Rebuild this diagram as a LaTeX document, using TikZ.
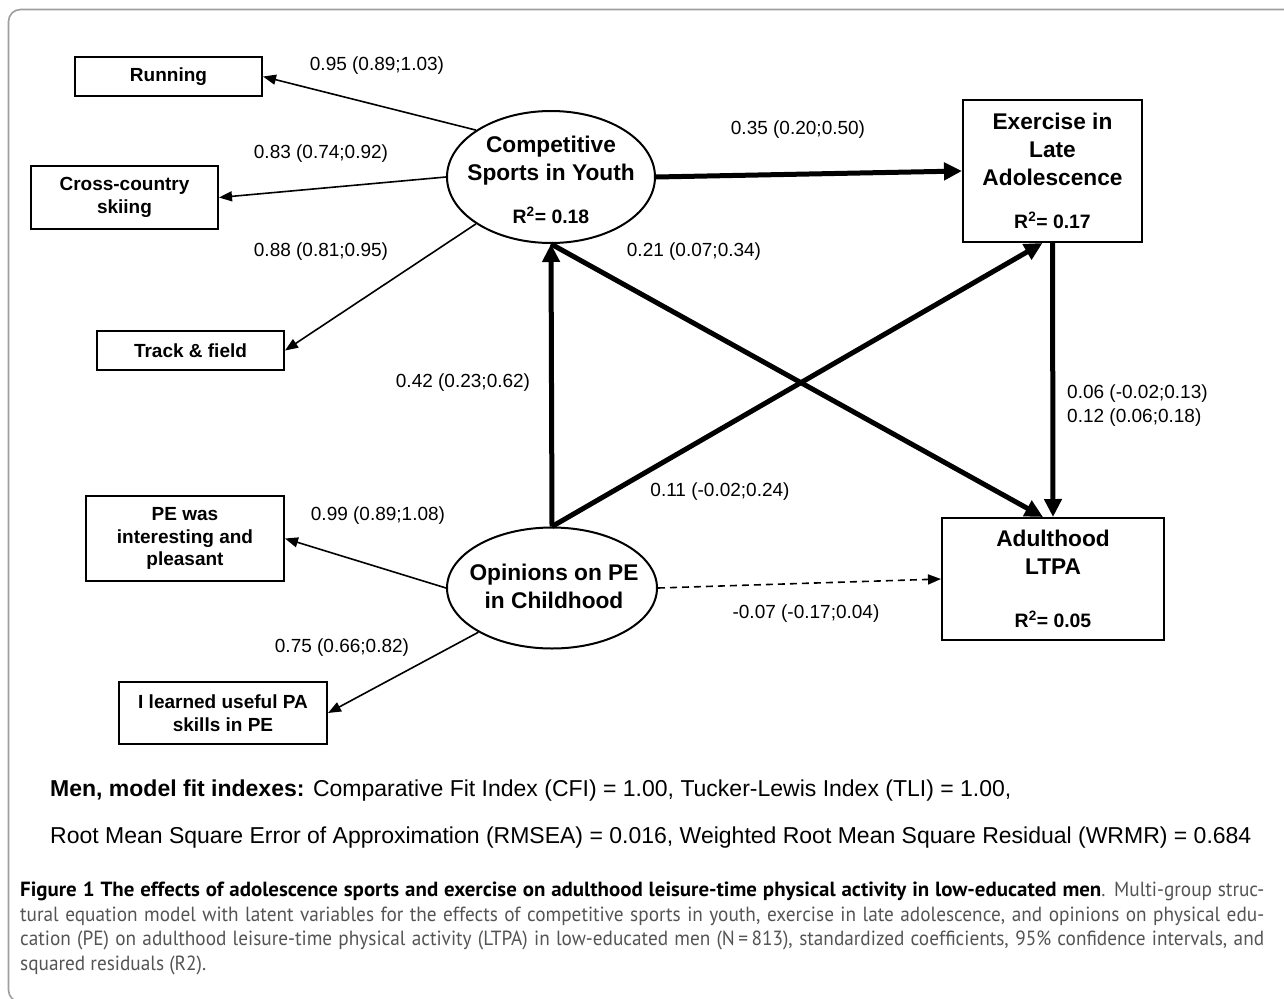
\documentclass[tikz,border=0pt]{standalone}
\usepackage{fontspec}
\setmainfont{Liberation Sans}
\newfontfamily\capfont[FakeStretch=0.94]{PT Sans}
\newfontfamily\capboldfont[FakeStretch=1.02]{PT Sans}
\usepackage{xcolor}
\usetikzlibrary{arrows.meta,shapes.geometric,positioning,calc}

\definecolor{framegray}{gray}{0.62}
\definecolor{capgray}{gray}{0.33}

\newcommand{\boxfont}{\fontsize{19}{22.5}\selectfont\bfseries}
\newcommand{\titlefont}{\fontsize{22.7}{28}\selectfont\bfseries}
\newcommand{\rsqfont}{\fontsize{19.4}{23}\selectfont\bfseries}
\newcommand{\coeffont}{\fontsize{19}{24}\selectfont}
\newcommand{\fitfont}{\fontsize{23}{27}\selectfont}

\begin{document}
\begin{tikzpicture}[x=1pt, y=-1pt,
    obs/.style={draw, line width=2pt, inner sep=0pt, align=center, font=\boxfont},
    latent/.style={ellipse, draw, line width=2pt, inner sep=0pt},
    headline/.style={align=center, font=\titlefont, inner sep=0pt},
    loading/.style={-{Triangle[length=13pt,width=10pt]}, line width=1.6pt},
    effect/.style={-{Triangle[length=18pt,width=17pt]}, line width=5pt},
    coef/.style={font=\coeffont, inner sep=0pt}]
    \useasboundingbox (0,0) rectangle (1284,998);

    % Frame
    \begin{scope}
        \clip (0,0) rectangle (1284,998);
        \draw[framegray, line width=1.6pt, rounded corners=12pt] (8.5,9.5) rectangle (1320,1002);
    \end{scope}

    % Competitive sports in youth and its indicators
    \node[latent, minimum width=208pt, minimum height=132pt] (comp) at (551,177) {};
    \node[headline] (comp-t) at (551,180) {Competitive\\Sports in Youth\\[15pt]{\rsqfont R\textsuperscript{2}= 0.18}};
    \node[obs, minimum width=187pt, minimum height=39pt] (run) at (168.5,76.5) {Running};
    \node[obs, minimum width=187pt, minimum height=63pt] (ski) at (124.5,197.5) {Cross-country\\skiing};
    \node[obs, minimum width=187pt, minimum height=39pt] (track) at (190.5,350.5) {Track \& field};

    % Opinions on PE and its indicators
    \node[latent, minimum width=210pt, minimum height=121pt] (opin) at (552,588) {};
    \node[headline] (opin-t) at (554,586) {Opinions on PE\\in Childhood};
    \node[obs, minimum width=198pt, minimum height=85pt] (pe) at (185,538.5) {PE was\\interesting and\\pleasant};
    \node[obs, minimum width=208pt, minimum height=62pt] (skill) at (223,713) {I learned useful PA\\skills in PE};

    % Outcomes
    \node[obs, font=\titlefont, minimum width=179pt, minimum height=142pt] (ex) at (1052.5,171) {Exercise in\\Late\\Adolescence\\[15pt]{\rsqfont R\textsuperscript{2}= 0.17}};
    \node[obs, font=\titlefont, minimum width=222pt, minimum height=122pt] (adult) at (1053,579) {Adulthood\\LTPA\\[25pt]{\rsqfont R\textsuperscript{2}= 0.05}};

    % Loadings
    \draw[loading] (comp.148) -- (run.east);
    \draw[loading] (comp.180) -- (ski.east);
    \draw[loading] (comp.212) -- (track.east);
    \draw[loading] (opin.180) -- (pe.east);
    \draw[loading] (opin.211) -- (skill.east);

    % Paths
    \draw[effect] (comp.east) -- (ex.west);
    \draw[effect] (opin.north) -- (comp.south);
    \draw[effect] (opin.north) -- ([xshift=-10pt]ex.south);
    \draw[effect] (comp.south) -- ([xshift=-10pt]adult.north);
    \draw[effect] (ex.south) -- (adult.north);
    \draw[loading, dash pattern=on 7pt off 5pt] (opin.east) -- (adult.west);

    % Coefficients
    \node[coef] (c-run) at (377,66) {0.95 (0.89;1.03)};
    \node[coef] (c-ski) at (321,154) {0.83 (0.74;0.92)};
    \node[coef] (c-track) at (321,252) {0.88 (0.81;0.95)};
    \node[coef] (c-ce) at (798,130) {0.35 (0.20;0.50)};
    \node[coef] (c-ca) at (694,252) {0.21 (0.07;0.34)};
    \node[coef] (c-oc) at (463,383) {0.42 (0.23;0.62)};
    \node[coef, anchor=west, align=left] (c-ea) at (1067,406) {0.06 (-0.02;0.13)\\0.12 (0.06;0.18)};
    \node[coef] (c-oe) at (720,492) {0.11 (-0.02;0.24)};
    \node[coef] (c-pe) at (378,516) {0.99 (0.89;1.08)};
    \node[coef] (c-oa) at (806,614) {-0.07 (-0.17;0.04)};
    \node[coef] (c-skill) at (342,648) {0.75 (0.66;0.82)};

    % Model fit
    \node[anchor=west, font=\fitfont, inner sep=0pt] (fit1) at (50,791) {\textbf{Men, model fit indexes:} Comparative Fit Index (CFI) = 1.00, Tucker-Lewis Index (TLI) = 1.00,};
    \node[anchor=west, font=\fitfont, inner sep=0pt] (fit2) at (50,838) {Root Mean Square Error of Approximation (RMSEA) = 0.016, Weighted Root Mean Square Residual (WRMR) = 0.684};

    % Caption
    \node[anchor=north west, inner sep=0pt, text width=1244pt, align=justify, text=capgray,
        font=\capfont\fontsize{20.5}{24.5}\selectfont] (cap) at (20,882)
        {\hyphenpenalty=10000\relax\tolerance=10000\relax
        {\capboldfont\bfseries\color{black}Figure 1 The effects of adolescence sports and exercise on adulthood leisure-time physical activity in low-educated men}. Multi-group struc-\linebreak
        tural equation model with latent variables for the effects of competitive sports in youth, exercise in late adolescence, and opinions on physical edu-\linebreak
        cation (PE) on adulthood leisure-time physical activity (LTPA) in low-educated men (N\,=\,813), standardized coefficients, 95\% confidence intervals, and\linebreak
        squared residuals (R2).};
\end{tikzpicture}
\end{document}
